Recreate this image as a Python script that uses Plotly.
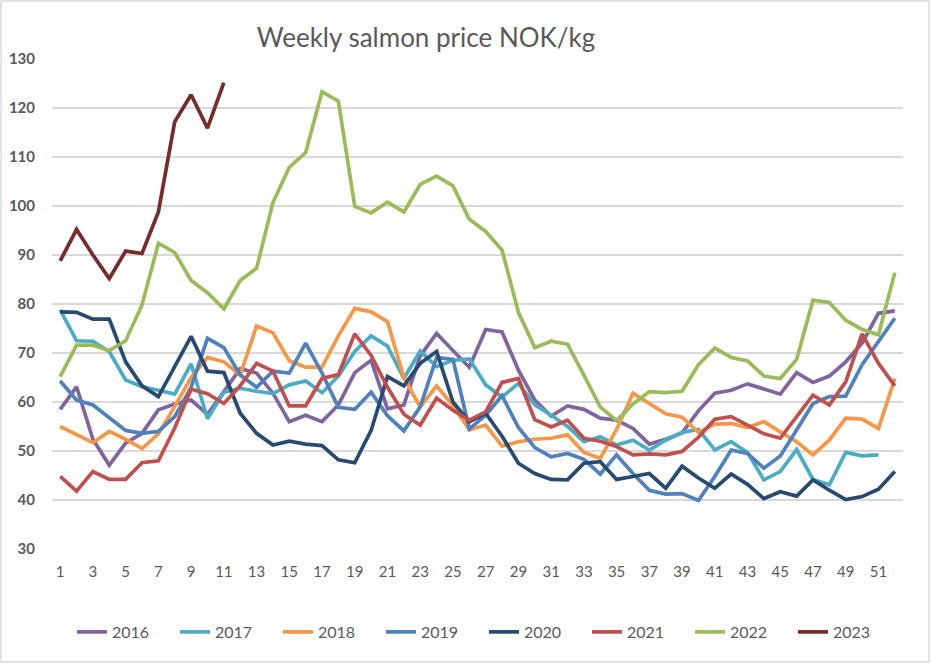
import plotly.graph_objects as go

weeks = list(range(1, 53))

price_2016 = [58.5, 63.1, 52.4, 47.1, 51.6, 53.6, 58.4, 59.6, 60.4, 57.5,
              62.1, 66.8, 65.9, 61.8, 56.0, 57.3, 56.0, 59.4, 66.0, 68.5,
              58.6, 59.4, 69.4, 74.0, 70.5, 67.1, 74.8, 74.3, 66.5, 60.4,
              57.1, 59.2, 58.5, 56.7, 56.3, 54.6, 51.4, 52.4, 53.7, 58.2,
              61.8, 62.4, 63.7, 62.6, 61.6, 66.0, 64.0, 65.3, 68.2, 72.0, 78.1, 78.6]
price_2017 = [78.8, 72.5, 72.4, 70.3, 64.5, 63.1, 62.4, 61.6, 67.8, 56.6,
              62.0, 62.8, 62.2, 61.7, 63.5, 64.3, 61.9, 65.3, 70.3, 73.5,
              71.4, 64.8, 70.4, 67.2, 68.5, 68.8, 63.5, 61.0, 63.8, 59.4,
              57.3, 55.0, 51.9, 52.9, 51.2, 52.2, 50.2, 52.2, 53.8, 54.4,
              50.2, 51.9, 49.7, 44.1, 45.8, 50.3, 44.2, 43.1, 49.7, 49.0, 49.2, None]
price_2018 = [55.0, 53.3, 51.7, 54.0, 52.4, 50.5, 53.5, 59.1, 65.0, 69.1,
              68.2, 65.5, 75.5, 74.1, 68.4, 67.1, 67.1, 73.5, 79.1, 78.4,
              76.4, 65.0, 59.0, 63.3, 59.3, 54.3, 55.3, 51.0, 51.9, 52.4,
              52.6, 53.3, 49.7, 48.5, 54.4, 61.8, 59.7, 57.6, 56.9, 53.8,
              55.5, 55.6, 54.8, 56.0, 53.9, 51.9, 49.2, 52.2, 56.7, 56.5, 54.6, 64.8]
price_2019 = [64.3, 60.4, 59.4, 56.9, 54.2, 53.6, 54.0, 57.0, 63.0, 73.0,
              71.1, 65.5, 63.0, 66.3, 65.9, 72.0, 65.9, 58.9, 58.5, 62.0,
              57.2, 54.1, 59.0, 69.1, 68.7, 54.5, 57.3, 61.3, 54.8, 50.7,
              48.8, 49.5, 48.3, 45.3, 49.2, 45.4, 42.0, 41.2, 41.3, 39.9,
              44.8, 50.2, 49.5, 46.5, 49.0, 54.3, 59.7, 61.1, 61.2, 67.6, 72.3, 77.1]
price_2020 = [78.4, 78.3, 76.9, 76.9, 68.2, 63.3, 61.1, 67.2, 73.4, 66.3,
              66.0, 57.7, 53.6, 51.2, 52.0, 51.4, 51.1, 48.2, 47.6, 54.2,
              65.2, 63.3, 67.9, 70.3, 60.0, 56.0, 57.7, 53.0, 47.5, 45.4,
              44.2, 44.1, 47.5, 47.8, 44.2, 44.8, 45.4, 42.4, 46.9, 44.5,
              42.4, 45.3, 43.2, 40.3, 41.7, 40.8, 44.1, 42.0, 40.1, 40.7, 42.2, 45.8]
price_2021 = [44.8, 41.8, 45.8, 44.2, 44.2, 47.6, 48.0, 54.7, 62.6, 61.7,
              59.7, 63.3, 67.9, 66.3, 59.2, 59.2, 64.8, 65.6, 73.9, 69.5,
              63.0, 57.5, 55.3, 60.8, 58.3, 56.3, 58.0, 64.0, 64.8, 56.4,
              54.9, 56.3, 52.6, 52.0, 50.9, 49.2, 49.4, 49.2, 49.9, 52.8,
              56.5, 57.0, 55.3, 53.5, 52.6, 57.1, 61.4, 59.4, 64.1, 73.9, 67.9, 63.3]
price_2022 = [65.2, 71.6, 71.6, 70.5, 72.5, 79.8, 92.4, 90.5, 84.8, 82.3,
              79.0, 84.8, 87.3, 100.7, 107.9, 110.9, 123.3, 121.4, 99.9, 98.6,
              100.8, 98.8, 104.4, 106.1, 104.1, 97.3, 94.8, 91.0, 78.3, 71.1,
              72.4, 71.8, 65.5, 59.0, 56.2, 59.6, 62.1, 61.9, 62.2, 67.6,
              71.0, 69.1, 68.4, 65.3, 64.8, 68.7, 80.8, 80.3, 76.7, 74.8, 73.7, 86.4]
price_2023 = [88.8, 95.2, 90.0, 85.2, 90.8, 90.3, 98.8, 117.2, 122.7, 115.9, 125.2]

series = [
    ("2016", price_2016, "#8064A2"),
    ("2017", price_2017, "#4BACC6"),
    ("2018", price_2018, "#F79646"),
    ("2019", price_2019, "#4F81BD"),
    ("2020", price_2020, "#284A72"),
    ("2021", price_2021, "#C0504D"),
    ("2022", price_2022, "#9BBB59"),
    ("2023", price_2023, "#772C2A"),
]

fig = go.Figure()
for name, vals, col in series:
    fig.add_trace(go.Scatter(x=weeks[:len(vals)], y=vals, name=name, mode="lines",
                             line=dict(color=col, width=3.7)))

# plot area in pixels (931x664 page)
W, H = 931, 664
ml, mr, mt, mb = 52, 28, 59, 115
pw, ph = W - ml - mr, H - mt - mb

fig.update_layout(
    width=W, height=H,
    margin=dict(l=ml, r=mr, t=mt, b=mb, autoexpand=False),
    paper_bgcolor="white", plot_bgcolor="white",
    title=dict(text="Weekly salmon price NOK/kg", x=(426 - ml) / pw, xref="paper", xanchor="center",
               y=1 - 38 / H, yanchor="middle",
               font=dict(family="Lato", size=26, color="#595959")),
    font=dict(family="Lato", color="#595959"),
    legend=dict(orientation="h", x=(484 - ml) / pw, xanchor="center", y=-83 / ph, yanchor="middle",
                entrywidth=58, entrywidthmode="pixels", font=dict(size=16, color="#595959")),
    showlegend=True,
)

fig.update_xaxes(range=[0.5, 52.5], tickvals=list(range(1, 53, 2)), showgrid=False, zeroline=False,
                 showline=False, ticks="", ticklabelstandoff=12, automargin=False,
                 tickfont=dict(family="Lato", size=15, color="#595959"))
fig.update_yaxes(range=[30, 130], dtick=10, showgrid=True, gridcolor="#D9D9D9", gridwidth=1.5,
                 zeroline=False, showline=False, ticks="", ticklabelstandoff=16, automargin=False,
                 tickfont=dict(family="Lato", size=15, color="#595959", weight="bold"))

# chart area border
fig.add_shape(type="rect", xref="paper", yref="paper",
              x0=-(ml - 1) / pw, x1=1 + (mr - 2) / pw, y0=-(mb - 2) / ph, y1=1 + (mt - 1) / ph,
              line=dict(color="#D9D9D9", width=1.5), fillcolor="rgba(0,0,0,0)")

# drop the default page margin so the chart sits at the top-left corner
fig.write_html("out.html", config={"displayModeBar": False},
               post_script="document.body.style.margin='0px';")
